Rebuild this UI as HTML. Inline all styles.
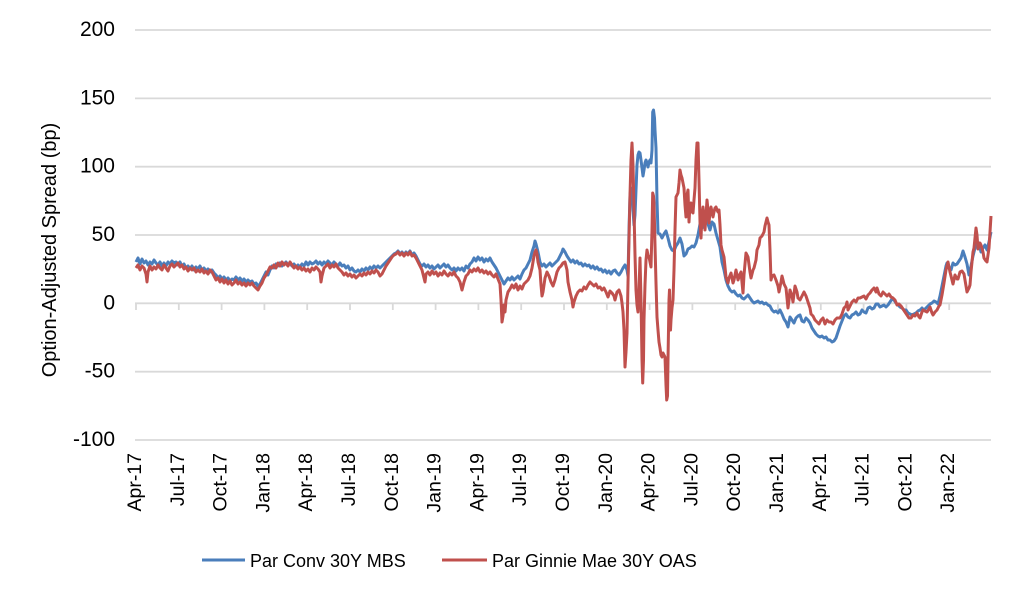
<!DOCTYPE html>
<html><head><meta charset="utf-8"><style>
html,body{margin:0;padding:0;background:#fff;}
svg{display:block;}
text{font-family:"Liberation Sans",Arial,sans-serif;fill:#000;}
</style></head><body>
<svg width="1024" height="597" viewBox="0 0 1024 597" xmlns="http://www.w3.org/2000/svg">
<rect width="1024" height="597" fill="#fff"/>
<g stroke="#d9d9d9" stroke-width="1.8">
<line x1="135" y1="30" x2="991" y2="30"/>
<line x1="135" y1="98.4" x2="991" y2="98.4"/>
<line x1="135" y1="166.7" x2="991" y2="166.7"/>
<line x1="135" y1="235" x2="991" y2="235"/>
<line x1="135" y1="371.7" x2="991" y2="371.7"/>
<line x1="135" y1="440" x2="991" y2="440"/>
<line x1="135" y1="303.3" x2="991" y2="303.3"/>
<line x1="136" y1="303.3" x2="136" y2="310"/>
<line x1="178.8" y1="303.3" x2="178.8" y2="310"/>
<line x1="221.6" y1="303.3" x2="221.6" y2="310"/>
<line x1="264.4" y1="303.3" x2="264.4" y2="310"/>
<line x1="307.2" y1="303.3" x2="307.2" y2="310"/>
<line x1="350" y1="303.3" x2="350" y2="310"/>
<line x1="392.8" y1="303.3" x2="392.8" y2="310"/>
<line x1="435.6" y1="303.3" x2="435.6" y2="310"/>
<line x1="478.4" y1="303.3" x2="478.4" y2="310"/>
<line x1="521.2" y1="303.3" x2="521.2" y2="310"/>
<line x1="564" y1="303.3" x2="564" y2="310"/>
<line x1="606.8" y1="303.3" x2="606.8" y2="310"/>
<line x1="649.6" y1="303.3" x2="649.6" y2="310"/>
<line x1="692.4" y1="303.3" x2="692.4" y2="310"/>
<line x1="735.2" y1="303.3" x2="735.2" y2="310"/>
<line x1="778" y1="303.3" x2="778" y2="310"/>
<line x1="820.8" y1="303.3" x2="820.8" y2="310"/>
<line x1="863.6" y1="303.3" x2="863.6" y2="310"/>
<line x1="906.4" y1="303.3" x2="906.4" y2="310"/>
<line x1="949.2" y1="303.3" x2="949.2" y2="310"/>
</g>
<g font-size="21" text-anchor="end">
<text x="115" y="36">200</text>
<text x="115" y="104.4">150</text>
<text x="115" y="172.7">100</text>
<text x="115" y="241">50</text>
<text x="115" y="309.3">0</text>
<text x="115" y="377.7">-50</text>
<text x="115" y="446">-100</text>
</g>
<text font-size="20" text-anchor="middle" transform="translate(56,250) rotate(-90)">Option-Adjusted Spread (bp)</text>
<g font-size="19.5" text-anchor="end">
<text transform="translate(141,453) rotate(-90)">Apr-17</text>
<text transform="translate(183.8,453) rotate(-90)">Jul-17</text>
<text transform="translate(226.6,453) rotate(-90)">Oct-17</text>
<text transform="translate(269.4,453) rotate(-90)">Jan-18</text>
<text transform="translate(312.2,453) rotate(-90)">Apr-18</text>
<text transform="translate(355,453) rotate(-90)">Jul-18</text>
<text transform="translate(397.8,453) rotate(-90)">Oct-18</text>
<text transform="translate(440.6,453) rotate(-90)">Jan-19</text>
<text transform="translate(483.4,453) rotate(-90)">Apr-19</text>
<text transform="translate(526.2,453) rotate(-90)">Jul-19</text>
<text transform="translate(569,453) rotate(-90)">Oct-19</text>
<text transform="translate(611.8,453) rotate(-90)">Jan-20</text>
<text transform="translate(654.6,453) rotate(-90)">Apr-20</text>
<text transform="translate(697.4,453) rotate(-90)">Jul-20</text>
<text transform="translate(740.2,453) rotate(-90)">Oct-20</text>
<text transform="translate(783,453) rotate(-90)">Jan-21</text>
<text transform="translate(825.8,453) rotate(-90)">Apr-21</text>
<text transform="translate(868.6,453) rotate(-90)">Jul-21</text>
<text transform="translate(911.4,453) rotate(-90)">Oct-21</text>
<text transform="translate(954.2,453) rotate(-90)">Jan-22</text>
</g>
<polyline fill="none" stroke="#4a7ebb" stroke-width="3" stroke-linejoin="round" points="136,262 138,258 140,264 142,259 144,263 146,261 148,265 150,262 152,264 154,260 156,263 158,265 160,262 162,266 164,263 166,266 168,262 170,264 172,261 174,263 176,262 178,265 180,262 182,266 184,264 186,268 188,266 190,269 192,266 194,270 196,267 198,269 200,266 202,270 204,268 206,271 208,269 210,272 212,270 214,273 216,275 218,278 220,276 222,279 224,277 226,280 228,278 230,281 232,279 234,280 236,277 238,280 240,278 242,281 244,279 246,282 248,280 250,282 252,281 254,284 256,283 258,286 260,284 262,280 264,276 266,272 268,275 270,270 272,266 274,268 276,264 278,266 280,263 282,266 284,264 286,262 288,265 290,263 292,266 294,264 296,267 298,265 300,267 302,264 304,266 306,262 308,265 310,262 312,264 314,263 316,261 318,264 320,262 322,265 324,262 326,264 328,261 330,263 332,265 334,262 336,264 338,266 340,263 342,266 344,265 346,268 348,266 350,270 352,268 354,271 356,272 358,270 360,272 362,269 364,271 366,268 368,270 370,267 372,269 374,266 376,268 378,266 380,268 382,266 384,264 386,262 388,260 390,258 392,256 394,254 396,253 398,251 400,254 402,252 404,255 406,252 408,254 410,251 412,255 414,253 416,256 418,260 420,264 422,266 424,264 426,267 428,265 430,268 432,266 434,269 436,267 438,265 440,268 442,266 444,264 446,267 448,265 450,268 452,270 454,268 456,271 458,268 460,270 462,268 464,271 466,266 468,268 470,264 472,262 474,258 476,261 478,257 480,260 482,258 484,262 486,259 488,261 490,258 492,262 494,265 496,268 498,272 500,276 502,280 504,284 506,281 508,278 510,280 512,277 514,280 516,278 518,276 520,279 522,274 524,270 526,268 528,264 530,260 532,252 534,246 535,241 536,244 538,252 540,262 542,266 544,264 546,267 548,265 550,263 552,266 554,264 556,262 558,260 560,256 562,252 563,249 565,252 567,256 569,259 571,262 573,260 575,263 577,261 579,264 581,263 583,266 585,264 587,266 589,265 591,268 593,266 595,269 597,267 599,270 601,269 603,272 605,270 607,273 609,271 611,274 613,271 615,270 617,273 619,275 621,272 623,268 625,265 627,270 628,276 629,230 630,195 631,188 632,190 633,210 634,225 635,215 636,190 637,165 638,155 639,152 640,153 641,160 642,168 643,176 644,170 645,163 646,160 647,163 648,167 649,162 650,160 651,163 652,150 652.7,112 653.5,110 654.5,118 655,130 656,148 657,200 658,233 660,234 662,238 664,234 666,231 668,238 670,246 672,250 674,251 676,246 678,243 680,238 682,244 684,256 686,254 688,249 690,248 692,246 694,247 696,243 698,235 700,224 702,228 704,226 706,220 708,224 710,230 712,222 714,224 716,233 718,240 720,247 722,262 724,270 726,280 728,286 730,290 732,292 734,291 736,294 738,296 740,295 742,298 744,299 746,297 748,295 750,298 752,301 754,303 756,302 758,301 760,303 762,302 764,304 766,303 768,305 770,306 772,310 774,312 776,311 778,313 780,310 782,314 784,319 786,322 788,327 790,317 792,320 794,323 796,318 798,316 800,315 802,321 804,322 806,318 808,320 810,323 812,328 814,331 816,334 818,336 820,337 822,336 824,338 826,337 828,340 830,340 832,342 834,341 836,338 838,332 840,326 842,321 844,316 846,314 848,317 850,318 852,315 854,314 856,312 858,315 860,314 862,310 864,312 866,313 868,308 870,307 872,309 874,308 876,304 878,304 880,307 882,306 884,305 886,307 888,305 890,302 892,299 894,300 896,303 898,305 900,307 902,308 904,310 906,310 908,313 910,314 912,315 914,314 916,313 918,311 920,310 922,308 924,310 926,308 928,306 930,304 932,303 934,301 936,302 938,304 940,296 942,286 944,276 946,266 947,263 949,268 951,270 953,263 955,265 957,264 959,261 961,258 963,251 965,257 967,264 969,275 971,266 973,256 975,248 977,244 979,243 981,252 983,248 985,245 987,250 989,242 991,232"/>
<polyline fill="none" stroke="#c0504d" stroke-width="3" stroke-linejoin="round" points="136,268 138,265 140,270 142,266 144,268 146,274 147,282 148,272 150,266 152,270 154,267 156,269 158,265 160,268 162,270 164,265 166,268 168,271 170,266 172,264 174,267 176,265 178,263 180,267 182,265 184,269 186,267 188,271 190,268 192,270 194,268 196,272 198,270 200,272 202,269 204,273 206,271 208,274 210,270 212,272 214,276 216,280 218,278 220,282 222,279 224,283 226,280 228,284 230,281 232,285 234,283 236,280 238,284 240,282 242,285 244,283 246,286 248,283 250,285 252,283 254,286 256,288 258,290 260,286 262,283 264,278 266,275 268,271 270,267 272,268 274,265 276,268 278,263 280,266 282,262 284,265 286,263 288,266 290,262 292,265 294,268 296,266 298,269 300,267 302,270 304,268 306,271 308,269 310,272 312,268 314,270 316,267 318,269 320,272 321,282 322,276 324,268 326,266 328,264 330,268 332,265 334,267 336,264 338,268 340,270 342,272 344,275 346,273 348,276 350,274 352,277 354,275 356,278 358,276 360,274 362,276 364,273 366,275 368,272 370,274 372,271 374,273 376,270 378,272 380,276 382,274 384,270 386,266 388,263 390,260 392,257 394,255 396,254 398,252 400,255 402,253 404,256 406,253 408,255 410,252 412,256 414,255 416,258 418,262 420,266 422,270 424,278 425,282 426,274 428,272 430,275 432,271 434,274 436,272 438,276 440,273 442,275 444,271 446,274 448,276 450,273 452,275 454,272 456,276 458,278 460,282 462,290 464,282 466,276 468,274 470,270 472,272 474,269 476,271 478,268 480,272 482,270 484,273 486,271 488,274 490,272 492,275 494,277 496,274 498,279 500,284 501,300 502,322 503,316 504,305 505,312 506,300 508,292 510,289 512,285 514,288 516,284 518,290 520,286 522,289 524,284 526,282 528,280 530,276 532,268 534,256 535,252 536,250 537,254 538,262 540,270 541,285 542,296 543,292 545,278 547,272 549,276 551,282 553,286 555,280 557,272 559,268 561,266 563,263 565,262 567,270 568,282 570,292 572,300 573,307 574,302 576,296 578,292 580,290 582,291 584,287 586,289 588,285 590,282 592,284 594,286 596,284 598,288 600,287 602,290 604,288 606,292 608,297 610,291 612,293 614,296 615,300 617,292 619,290 621,296 622,303 623,312 624,330 625,367 626,352 627,333 628,283 629,240 630,195 631,160 632,143 633,165 634,210 635,255 636,290 637,305 638,312 639,290 640,258 641,300 642,360 642.7,383 643.5,360 644,320 645,285 646,260 647,250 648,255 649,257 650,262 651,267 652,230 652.7,193 653.5,196 654,203 655,245 656,283 657,317 658,330 659,342 660,348 661,355 662,357 663,353 664,355 665,357 666,385 666.7,400 667.5,396 668,360 669,300 669.5,290 670.5,330 671,320 672,308 673,300 674,270 675,230 676,197 677,195 678,193 679,183 680,170 681,175 682,178 683,183 684,188 685,205 686,217 687,195 688,190 689,222 690,205 691,203 692,212 693,213 694,200 695,188 696,160 697,143 698,143 699,180 700,222 701,238 702,215 703,207 704,218 705,230 706,215 707,200 708,210 709,223 710,212 711,207 712,212 713,217 714,212 715,208 716,207 717,210 718,212 719,210 720,225 721,245 722,250 724,257 726,277 728,283 729,278 731,273 733,283 734,280 736,270 738,280 740,274 741,272 743,293 744,275 746,253 748,257 750,272 751,278 753,270 754,268 756,260 757,250 759,245 760,238 762,236 764,232 765,226 767,218 768,222 769,225 770,250 771,280 772,276 774,275 776,280 778,286 779,292 781,282 782,276 784,284 786,288 787,298 788,308 789,300 790,290 792,296 793,302 795,286 797,292 798,298 800,300 802,296 804,292 806,296 808,302 810,308 811,314 813,316 815,320 817,322 819,324 821,320 823,318 825,324 827,320 829,322 831,322 833,324 835,320 837,318 840,318 842,314 844,308 846,306 847,302 848,310 850,306 852,302 854,300 856,302 858,298 860,298 862,297 864,296 866,299 868,295 870,293 872,290 874,288 876,292 877,288 879,294 881,296 883,292 885,294 887,296 889,294 891,297 893,298 895,300 897,305 899,304 901,306 903,309 905,312 907,315 909,318 911,318 913,315 915,316 917,313 919,317 920,318 922,312 923,310 925,311 927,312 929,309 930,307 932,313 933,315 935,312 937,310 939,306 940,305 942,295 944,283 946,270 948,262 950,272 952,280 953,284 955,275 957,279 958,279 960,272 962,271 964,274 966,286 967,292 969,288 970,285 971,272 972,262 973,252 974,248 976,228 977,235 978,249 980,243 981,245 983,252 984,258 986,261 987,262 989,248 990,232 991,216"/>
<line x1="202" y1="560" x2="245" y2="560" stroke="#4a7ebb" stroke-width="3"/>
<text x="250" y="567" font-size="18">Par Conv 30Y MBS</text>
<line x1="442" y1="560" x2="487" y2="560" stroke="#c0504d" stroke-width="3"/>
<text x="492" y="567" font-size="18">Par Ginnie Mae 30Y OAS</text>
</svg>
</body></html>
